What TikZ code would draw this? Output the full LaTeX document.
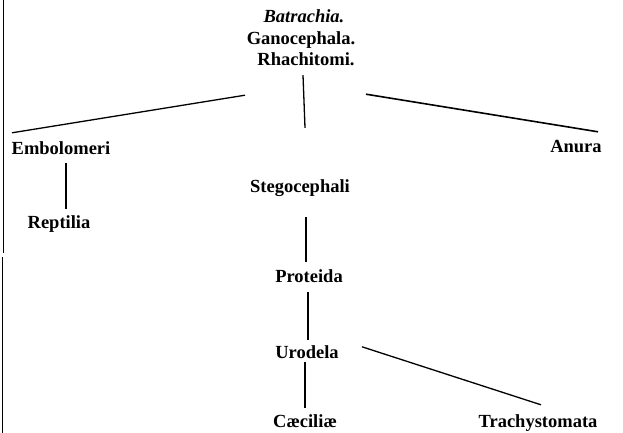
\documentclass[tikz,border=0pt]{standalone}
\usepackage{fontspec}
\setmainfont{Liberation Serif}

\begin{document}
\begin{tikzpicture}[x=1pt,y=-1pt,
  taxon/.style={anchor=base,inner sep=0pt,text height=12pt,text depth=4pt,
    font=\bfseries\fontsize{18.5}{20}\selectfont},
  branch/.style={line width=1.3pt}]
\useasboundingbox (0,0) rectangle (623,433);
% scan edge at the left
\draw[line width=0.8pt] (3,0)--(3,253);
\draw[line width=1.2pt] (2.5,257)--(2.5,433);
% names
\node[taxon] (bat) at (304,23) {\textit{Batrachia.}};
\node[taxon] (gano) at (301,45) {Ganocephala.};
\node[taxon] (rhach) at (306,66) {Rhachitomi.};
\node[taxon] (emb) at (61,154) {Embolomeri};
\node[taxon] (anura) at (576,152) {Anura};
\node[taxon] (rept) at (59,228) {Reptilia};
\node[taxon] (steg) at (300,192) {Stegocephali};
\node[taxon] (prot) at (309,282) {Proteida};
\node[taxon] (uro) at (307,358) {Urodela};
\node[taxon] (caec) at (305,427) {Cæciliæ};
\node[taxon] (trach) at (538,427) {Trachystomata};
% branches
\draw[branch] ([shift={(-61,25)}]rhach.south)--([shift={(-49,-9)}]emb.north);
\draw[branch] ([shift={(-3,5)}]rhach.south)--([shift={(5,-52)}]steg.north);
\draw[branch,line width=1.6pt] ([shift={(60,24)}]rhach.south)--([shift={(22,-8)}]anura.north);
\draw[branch] ([shift={(5,5)}]emb.south)--([shift={(7,-7)}]rept.north);
\draw[branch] ([shift={(6,21)}]steg.south)--([shift={(-3,-8)}]prot.north);
\draw[branch] ([shift={(-1,6)}]prot.south)--([shift={(1,-6)}]uro.north);
\draw[branch] ([shift={(-2,0)}]uro.south)--([shift={(0,-7)}]caec.north);
\draw[branch] ([shift={(55,1)}]uro.north)--([shift={(3,-10)}]trach.north);
\end{tikzpicture}
\end{document}
